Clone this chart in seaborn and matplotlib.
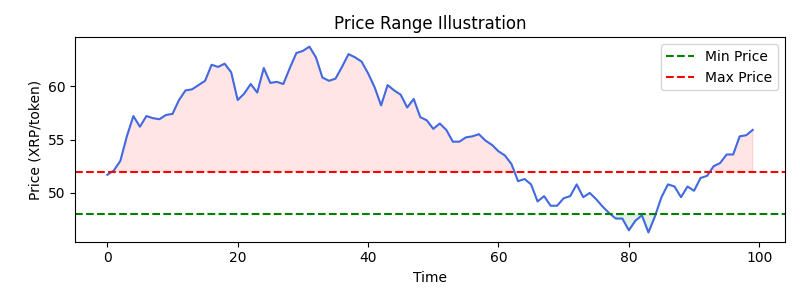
import numpy as np
import pandas as pd
import seaborn as sns
from matplotlib import pyplot as plt

# price series
prices = [
    51.7, 52.1, 53.0, 55.3, 57.2, 56.2, 57.2, 57.0, 56.9, 57.3,
    57.4, 58.7, 59.6, 59.7, 60.1, 60.5, 62.0, 61.8, 62.1, 61.3,
    58.7, 59.3, 60.2, 59.4, 61.7, 60.3, 60.4, 60.2, 61.7, 63.1,
    63.3, 63.7, 62.7, 60.8, 60.5, 60.7, 61.8, 63.0, 62.7, 62.3,
    61.2, 59.9, 58.2, 60.1, 59.6, 59.2, 58.0, 58.8, 57.1, 56.8,
    56.0, 56.5, 55.9, 54.8, 54.8, 55.2, 55.3, 55.5, 54.9, 54.5,
    53.9, 53.5, 52.7, 51.1, 51.3, 50.8, 49.2, 49.7, 48.8, 48.8,
    49.5, 49.7, 50.8, 49.6, 50.0, 49.4, 48.7, 48.1, 47.6, 47.6,
    46.5, 47.4, 47.9, 46.3, 47.8, 49.6, 50.8, 50.6, 49.6, 50.6,
    50.2, 51.4, 51.6, 52.5, 52.8, 53.6, 53.6, 55.3, 55.4, 55.9,
]
min_price = 48
max_price = 52

df = pd.DataFrame({"time": np.arange(len(prices)), "price": prices})
p = df.price.to_numpy()

fig, ax = plt.subplots(figsize=(8, 3), dpi=100)
sns.lineplot(data=df, x="time", y="price", color="royalblue", ax=ax)
ax.axhline(min_price, color="green", linestyle="--", label="Min Price")
ax.axhline(max_price, color="red", linestyle="--", label="Max Price")
ax.fill_between(df.time, p, max_price, where=p > max_price, color="red", alpha=0.1)
ax.fill_between(df.time, p, min_price, where=p < min_price, color="green", alpha=0.1)

ax.set_title("Price Range Illustration")
ax.set_xlabel("Time")
ax.set_ylabel("Price (XRP/token)")
ax.legend(loc="upper right")

plt.tight_layout()
plt.savefig("out.png", dpi=100)
